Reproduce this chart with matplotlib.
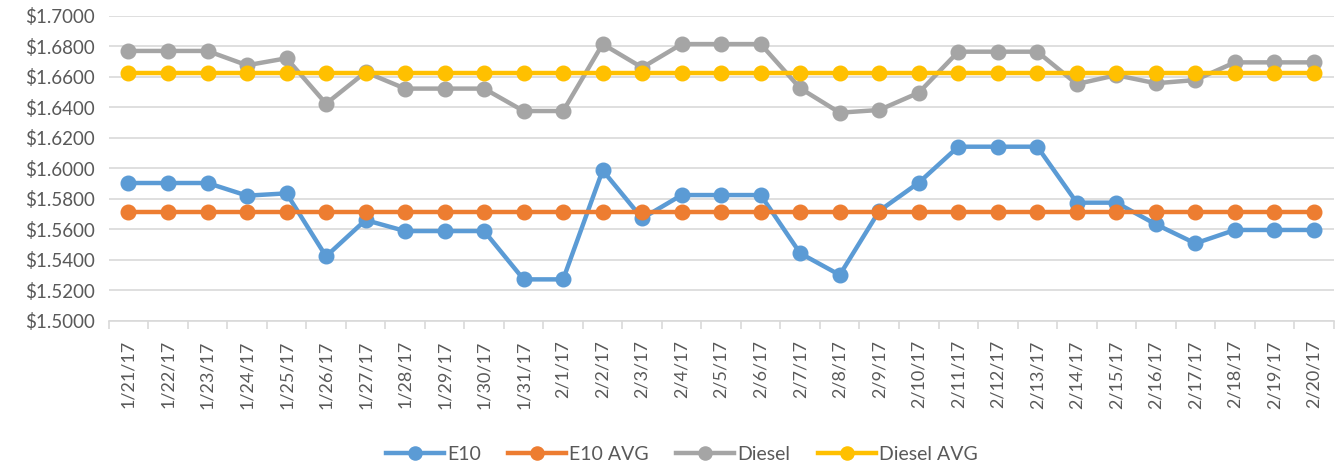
import matplotlib.pyplot as plt
import numpy as np
from matplotlib.ticker import FuncFormatter, MultipleLocator

# fechas (eje x)
dates = ["1/21/17", "1/22/17", "1/23/17", "1/24/17", "1/25/17", "1/26/17", "1/27/17",
         "1/28/17", "1/29/17", "1/30/17", "1/31/17", "2/1/17", "2/2/17", "2/3/17",
         "2/4/17", "2/5/17", "2/6/17", "2/7/17", "2/8/17", "2/9/17", "2/10/17",
         "2/11/17", "2/12/17", "2/13/17", "2/14/17", "2/15/17", "2/16/17", "2/17/17",
         "2/18/17", "2/19/17", "2/20/17"]

e10 = [1.5903, 1.5903, 1.5903, 1.5820, 1.5835, 1.5422, 1.5660, 1.5588, 1.5588, 1.5588,
       1.5271, 1.5271, 1.5986, 1.5671, 1.5824, 1.5824, 1.5824, 1.5442, 1.5300, 1.5720,
       1.5905, 1.6141, 1.6141, 1.6141, 1.5774, 1.5774, 1.5632, 1.5507, 1.5595, 1.5595,
       1.5595]
e10_avg = [1.5713] * 31

diesel = [1.6769, 1.6769, 1.6769, 1.6675, 1.6721, 1.6423, 1.6630, 1.6522, 1.6522, 1.6522,
          1.6375, 1.6375, 1.6814, 1.6660, 1.6814, 1.6814, 1.6814, 1.6524, 1.6364, 1.6382,
          1.6495, 1.6764, 1.6764, 1.6764, 1.6552, 1.6610, 1.6557, 1.6578, 1.6694, 1.6694,
          1.6694]
diesel_avg = [1.6626] * 31

series = [("E10", e10, "#5B9BD5"),
          ("E10 AVG", e10_avg, "#ED7D31"),
          ("Diesel", diesel, "#A5A5A5"),
          ("Diesel AVG", diesel_avg, "#FFC000")]

fig = plt.figure(figsize=(13.39, 4.69), dpi=100)
ax = fig.add_axes([0.0812, 0.3162, 0.9148, 0.6503])

x = np.arange(len(dates))
for name, vals, col in series:
    ax.plot(x, vals, color=col, lw=3.2, marker="o", ms=10.5, label=name)

ax.set_ylim(1.5, 1.7)
ax.set_xlim(-0.5, len(dates) - 0.5)
ax.yaxis.set_major_locator(MultipleLocator(0.02))
ax.yaxis.set_major_formatter(FuncFormatter(lambda v, p: "${:.4f}".format(v)))
ax.grid(axis="y", color="#d9d9d9", lw=1.2)
ax.set_axisbelow(True)

for s in ["top", "right", "left"]:
    ax.spines[s].set_visible(False)
ax.spines["bottom"].set_color("#d9d9d9")
ax.spines["bottom"].set_linewidth(1.2)

ax.set_xticks(x)
ax.set_xticklabels(dates, rotation=90, fontsize=13, color="#595959", family="Lato")
ax.set_xticks(np.arange(-0.5, len(dates)), minor=True)
ax.tick_params(axis="x", which="major", length=0, pad=14)
ax.tick_params(axis="x", which="minor", length=6, color="#d9d9d9", width=1.2)
ax.tick_params(axis="y", length=0, labelsize=13.5, labelcolor="#595959", pad=10)
for t in ax.get_yticklabels():
    t.set_family("Lato")

leg = fig.legend(loc="lower center", ncol=4, frameon=False, bbox_to_anchor=(0.509, -0.025),
                 prop={"family": "Lato", "size": 14}, handlelength=3.0, columnspacing=1.4,
                 handletextpad=0.15, markerscale=0.9)
for t in leg.get_texts():
    t.set_color("#595959")

fig.savefig("out.png", dpi=100)
